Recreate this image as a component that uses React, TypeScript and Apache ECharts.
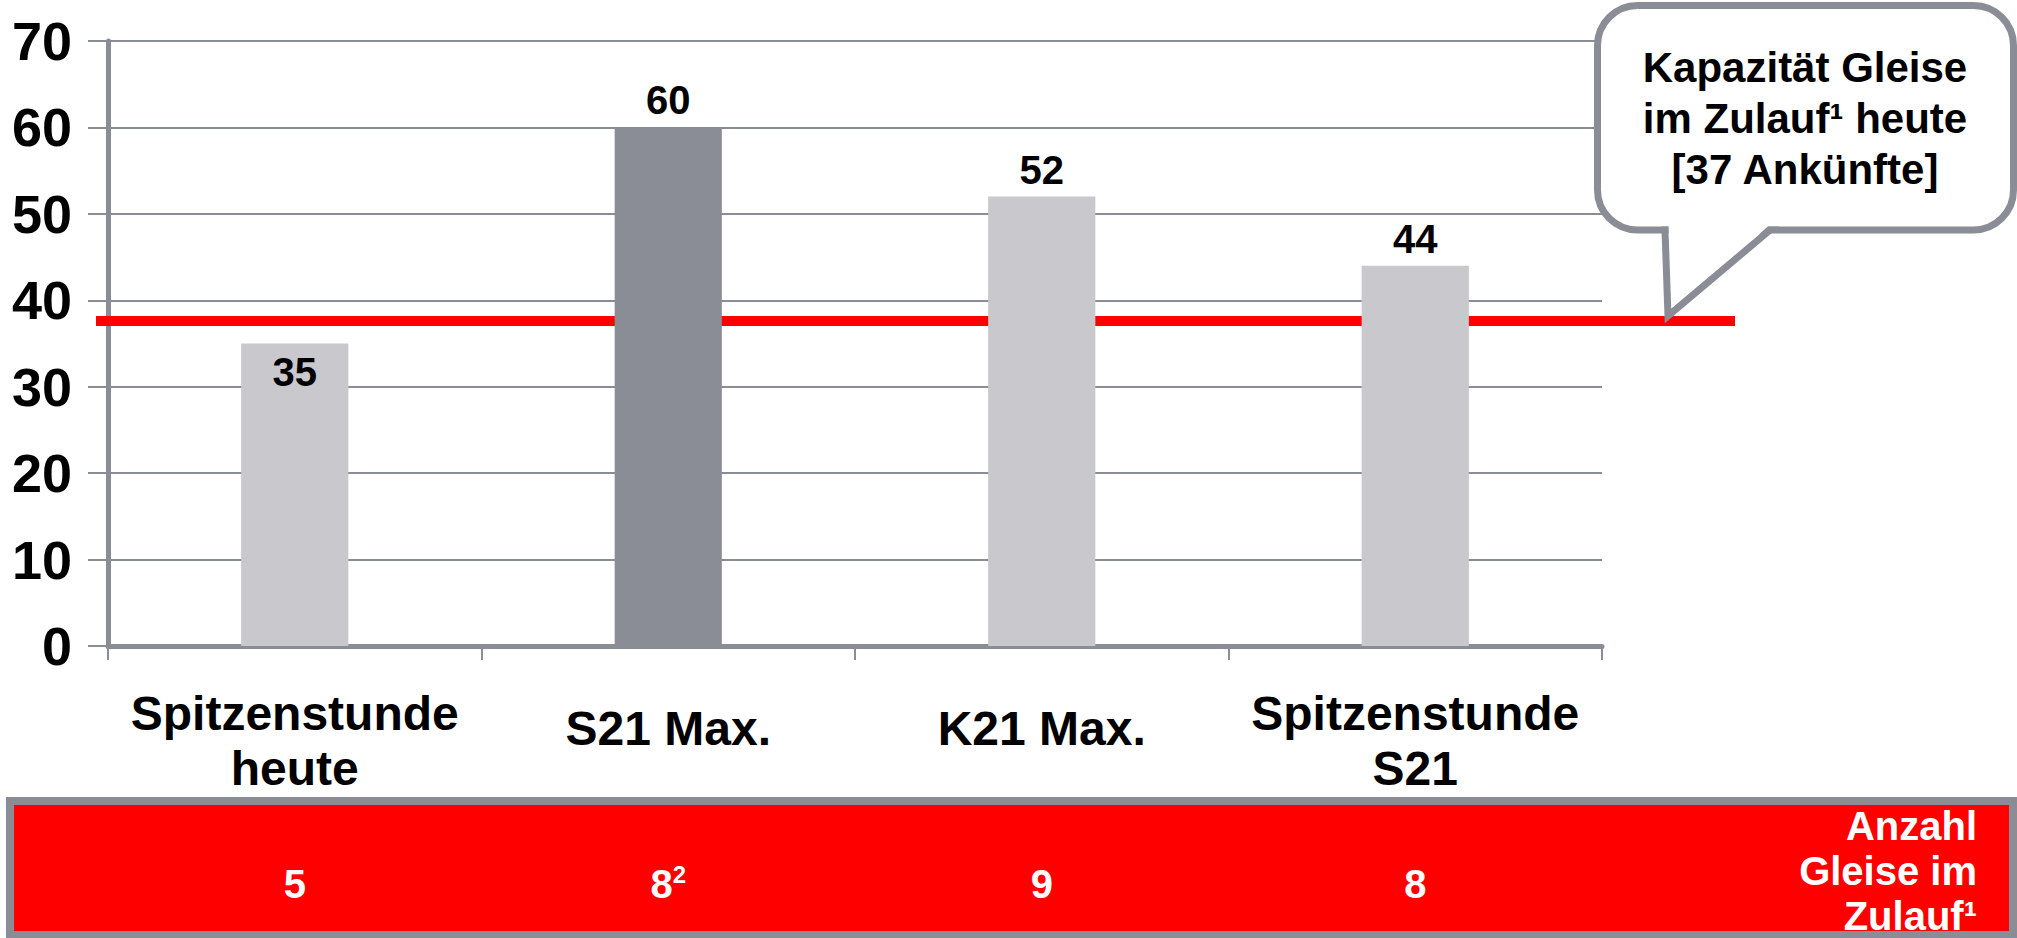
import React, { useEffect, useRef } from "react";
import * as echarts from "echarts";

// ---- data ----
const categories = ["Spitzenstunde\nheute", "S21 Max.", "K21 Max.", "Spitzenstunde\nS21"];
const arrivals = [35, 60, 52, 44];
const highlightIndex = [1];
const trackCounts = ["5", "8", "9", "8"];
const trackFootnotes = ["", "2", "", ""];
const capacityLevel = 37.6;
const calloutText = "Kapazität Gleise\nim Zulauf¹ heute\n[37 Ankünfte]";
const bandTitle = "Anzahl\nGleise im\nZulauf¹";
const yMin = 0;
const yMax = 70;
const yInterval = 10;

const FONT = "'Liberation Sans', Arial, Helvetica, sans-serif";
const GRAY = "#8a8d96";
const LIGHT = "#c8c8cd";
const RED = "#ff0000";

const labelFont = { fontFamily: FONT, fontSize: 48, fontWeight: "bold", color: "#000", lineHeight: 55 };

export default function App() {
  const ref = useRef<HTMLDivElement>(null);

  useEffect(() => {
    document.body.style.margin = "0";
    const chart = echarts.init(ref.current!, null, { renderer: "svg" });
    chart.setOption({
      animation: false,
      backgroundColor: "#ffffff",
      grid: {
        left: 108,
        right: 415,
        top: 41,
        bottom: 292,
        containLabel: false,
        outerBoundsMode: "none",
      },
      xAxis: {
        type: "category",
        data: categories,
        boundaryGap: true,
        axisLine: { show: true, lineStyle: { color: GRAY, width: 5 } },
        axisTick: { show: true, length: 14, lineStyle: { color: GRAY, width: 2 } },
        axisLabel: {
          interval: 0,
          margin: 95,
          verticalAlign: "middle",
          ...labelFont,
          formatter: (v: string) =>
            v.includes("\n")
              ? v.split("\n").map((l) => `{m|${l}}`).join("\n")
              : `{one|${v}}`,
          rich: {
            m: { ...labelFont },
            one: { ...labelFont, padding: [0, 0, 26, 0] },
          },
        },
      },
      yAxis: {
        type: "value",
        min: yMin,
        max: yMax,
        interval: yInterval,
        axisLine: { show: true, lineStyle: { color: GRAY, width: 5 } },
        axisTick: { show: true, length: 20, lineStyle: { color: GRAY, width: 2 } },
        splitLine: { show: true, lineStyle: { color: GRAY, width: 2 } },
        axisLabel: {
          margin: 36,
          fontFamily: FONT,
          fontSize: 54,
          fontWeight: "bold",
          color: "#000",
        },
      },
      series: [
        {
          type: "bar",
          barWidth: "28.7%",
          z: 3,
          data: arrivals.map((v, i) => ({
            value: v,
            itemStyle: { color: highlightIndex.includes(i) ? GRAY : LIGHT },
            label:
              i === 0
                ? { position: "insideTop", distance: 8 }
                : undefined,
          })),
          label: {
            show: true,
            position: "top",
            distance: 7,
            fontFamily: FONT,
            fontSize: 40,
            fontWeight: "bold",
            color: "#000",
          },
        },
      ],
    });

    const lineY = chart.convertToPixel({ yAxisIndex: 0 }, capacityLevel) as number;
    const catX = categories.map((_, i) => chart.convertToPixel({ xAxisIndex: 0 }, i) as number);

    const apexY = lineY - 5;
    const graphics: any[] = [
      // capacity line
      {
        type: "line",
        z: 1,
        shape: { x1: 96, y1: lineY, x2: 1735, y2: lineY },
        style: { stroke: RED, lineWidth: 10 },
      },
      // callout box
      {
        type: "rect",
        z: 20,
        shape: { x: 1597.5, y: 5.5, width: 416, height: 224.5, r: 40 },
        style: { fill: "#fff", stroke: GRAY, lineWidth: 7 },
      },
      {
        type: "polygon",
        z: 21,
        shape: { points: [[1665, 230], [1668, apexY], [1770, 230]] },
        style: { fill: "#fff", stroke: GRAY, lineWidth: 7, lineJoin: "miter" },
      },
      {
        type: "polygon",
        z: 22,
        shape: { points: [[1668.6, 224], [1770.6, 224], [1752.5, 240], [1669, 240]] },
        style: { fill: "#fff" },
      },
      {
        type: "text",
        z: 23,
        x: 1805,
        y: 118,
        style: {
          text: calloutText,
          font: `bold 42px ${FONT}`,
          fill: "#000",
          align: "center",
          textAlign: "center",
          verticalAlign: "middle",
          textVerticalAlign: "middle",
          lineHeight: 51,
        },
      },
      // bottom band
      {
        type: "rect",
        z: 5,
        shape: { x: 10, y: 801, width: 2003, height: 134 },
        style: { fill: RED, stroke: GRAY, lineWidth: 8 },
      },
      {
        type: "text",
        z: 6,
        x: 1977,
        y: 871,
        style: {
          text: bandTitle,
          font: `bold 40px ${FONT}`,
          fill: "#fff",
          align: "right",
          textAlign: "right",
          verticalAlign: "middle",
          textVerticalAlign: "middle",
          lineHeight: 45,
        },
      },
      ...trackCounts.map((n, i) => ({
        type: "text",
        z: 6,
        x: catX[i],
        y: 884,
        style: {
          text: trackFootnotes[i] ? `{n|${n}}{s|${trackFootnotes[i]}}` : `{n|${n}}`,
          align: "center",
          textAlign: "center",
          verticalAlign: "middle",
          textVerticalAlign: "middle",
          fill: "#fff",
          rich: {
            n: { fontFamily: FONT, fontSize: 40, fontWeight: "bold", fill: "#fff", color: "#fff", lineHeight: 44 },
            s: {
              fontFamily: FONT,
              fontSize: 24,
              fontWeight: "bold",
              fill: "#fff",
              color: "#fff",
              lineHeight: 24,
              verticalAlign: "top",
            },
          },
        },
      })),
    ];
    chart.setOption({ graphic: graphics });

    return () => chart.dispose();
  }, []);

  return (
    <div
      ref={ref}
      style={{ position: "fixed", left: 0, top: 0, width: 2017, height: 938 }}
    />
  );
}
